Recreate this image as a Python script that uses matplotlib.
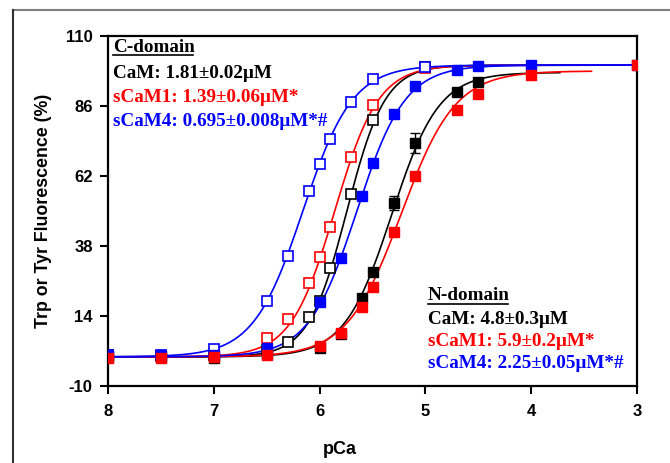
import numpy as np
import matplotlib
matplotlib.use("Agg")
import matplotlib.pyplot as plt
from matplotlib.lines import Line2D

# ---------------- data ----------------
pca_c = [8.0, 7.5, 7.0, 6.5, 6.3, 6.1, 6.0, 5.9, 5.7, 5.5, 5.0]
cam_c = [0.5, 0.3, 0.8, 2.5, 5.1, 13.7, 19.2, 30.5, 55.8, 81.2, 99.4]
scam1_c = [0.3, 0.3, 0.8, 6.5, 13.0, 25.3, 34.2, 44.5, 68.5, 86.3, 99.0]
scam4_c = [0.5, 0.5, 2.7, 19.2, 34.6, 56.9, 66.1, 74.7, 87.4, 95.3, 99.4]

pca_n = [8.0, 7.5, 7.0, 6.5, 6.0, 5.8, 5.6, 5.5, 5.3, 5.1, 4.7, 4.5, 4.0, 3.0]
pca_n_cam = [8.0, 7.5, 7.0, 6.5, 6.0, 5.8, 5.6, 5.5, 5.3, 5.1, 4.7, 4.5]
cam_n = [0.0, 0.0, -0.3, 1.0, 3.0, 8.0, 20.2, 29.1, 52.7, 73.3, 90.8, 94.2]
cam_n_err = [0.5, 0.5, 0.5, 0.5, 0.8, 1.0, 1.0, 1.0, 2.5, 3.5, 1.0, 1.0]
scam1_n = [-0.3, -0.3, 0.0, 0.5, 3.7, 8.2, 17.1, 24.0, 42.8, 62.0, 84.6, 90.1, 96.6, 100.0]
scam4_n = [0.5, 0.5, 0.8, 3.0, 18.8, 33.9, 55.1, 66.5, 83.3, 92.9, 98.3, 99.7, 100.0, 100.0]

# Hill-fit parameters (Kd in uM from the annotations)
kd_c = [1.81, 1.39, 0.695]
hill_c = [2.4, 2.1, 1.85]
top_c = [100.0, 100.0, 100.0]
kd_n = [4.8, 5.9, 2.25]
hill_n = [1.95, 1.7, 1.9]
top_n = [97.5, 98.0, 100.0]
fit_end_n = [3.73, 3.43, 3.0]

xticks = [8, 7, 6, 5, 4, 3]
yticks = [-10, 14, 38, 62, 86, 110]

c_labels = ["CaM: 1.81\u00b10.02\u03bcM", "sCaM1: 1.39\u00b10.06\u03bcM*", "sCaM4: 0.695\u00b10.008\u03bcM*#"]
n_labels = ["CaM: 4.8\u00b10.3\u03bcM", "sCaM1: 5.9\u00b10.2\u03bcM*", "sCaM4: 2.25\u00b10.05\u03bcM*#"]
colors = ["black", "#ff0000", "#0000ff"]


def hill(p, kd, n, top):
    pkd = -np.log10(kd * 1e-6)
    return top / (1.0 + 10 ** (n * (p - pkd)))


fig = plt.figure(figsize=(6.70, 4.63), dpi=100)
ax = fig.add_axes([108 / 670, 77 / 463, 529 / 670, 350 / 463])

# fitted curves
for i in range(3):
    xs = np.linspace(8, 3, 400)
    ax.plot(xs, hill(xs, kd_c[i], hill_c[i], top_c[i]), color=colors[i], lw=1.2, zorder=2)
    xs = np.linspace(8, fit_end_n[i], 400)
    ax.plot(xs, hill(xs, kd_n[i], hill_n[i], top_n[i]), color=colors[i], lw=1.2, zorder=2)

ms = 7.5
# C-domain open squares
for vals, col in zip([cam_c, scam1_c, scam4_c], colors):
    ax.errorbar(pca_c, vals, yerr=1.0, fmt="s", ms=ms, mfc="white", mec=col, mew=1.2,
                ecolor=col, elinewidth=1.0, capsize=3.5, capthick=1.0, zorder=4)
# N-domain filled squares
ax.errorbar(pca_n_cam, cam_n, yerr=cam_n_err, fmt="s", ms=ms, mfc="black", mec="black",
            ecolor="black", elinewidth=1.0, capsize=3.5, capthick=1.0, zorder=5)
ax.errorbar(pca_n, scam4_n, yerr=0.5, fmt="s", ms=ms, mfc=colors[2], mec=colors[2],
            ecolor=colors[2], elinewidth=1.0, capsize=3.5, capthick=1.0, zorder=5)
ax.errorbar(pca_n, scam1_n, yerr=0.5, fmt="s", ms=ms, mfc=colors[1], mec=colors[1],
            ecolor=colors[1], elinewidth=1.0, capsize=3.5, capthick=1.0, zorder=5)

ax.set_xlim(8, 3)
ax.set_ylim(-10, 110)
ax.set_xticks(xticks)
ax.set_yticks(yticks)
ax.set_xticklabels([str(t) for t in xticks])
ax.set_yticklabels([str(t) for t in yticks])
for s in ax.spines.values():
    s.set_linewidth(1.6)
ax.tick_params(direction="out", length=6, width=1.5)
ax.tick_params(axis="x", pad=7)
ax.tick_params(axis="y", pad=5)
for lab in ax.get_xticklabels() + ax.get_yticklabels():
    lab.set_fontfamily("Liberation Sans")
    lab.set_fontweight("bold")
    lab.set_fontsize(12)

ax.set_xlabel("pCa", fontfamily="Liberation Sans", fontweight="bold", fontsize=13)
ax.xaxis.set_label_coords((340 - 108) / 529, -(441 - 386) / 350)
ax.set_ylabel("Trp or Tyr Fluorescence (%)", fontfamily="Liberation Sans",
              fontweight="bold", fontsize=12.8)
ax.yaxis.set_label_coords(-(108 - 52) / 529, 0.5)

# annotations
serif = dict(fontfamily="Liberation Serif", fontweight="bold", fontsize=13.8)
fx = lambda px: px / 670
fy = lambda py: 1 - py / 463
ax.text(fx(113), fy(47), "C-domain", transform=fig.transFigure, color="black",
        va="center", ha="left", **serif)
fig.add_artist(Line2D([fx(113), fx(193)], [fy(55), fy(55)], color="black", lw=1.2))
for t, col, yy in zip(c_labels, colors, [73, 97.5, 122]):
    ax.text(fx(113), fy(yy), t, transform=fig.transFigure, color=col,
            va="center", ha="left", **serif)

ax.text(fx(428), fy(296), "N-domain", transform=fig.transFigure, color="black",
        va="center", ha="left", **serif)
fig.add_artist(Line2D([fx(428), fx(508)], [fy(304), fy(304)], color="black", lw=1.2))
for t, col, yy in zip(n_labels, colors, [320, 342, 364]):
    ax.text(fx(428), fy(yy), t, transform=fig.transFigure, color=col,
            va="center", ha="left", **serif)

# outer frame lines
fig.add_artist(Line2D([fx(13), 1.0], [fy(10), fy(10)], color="#808080", lw=1.5))
fig.add_artist(Line2D([fx(13), fx(13)], [0, fy(10)], color="#303030", lw=1.5))

fig.savefig("out.png", dpi=100)
